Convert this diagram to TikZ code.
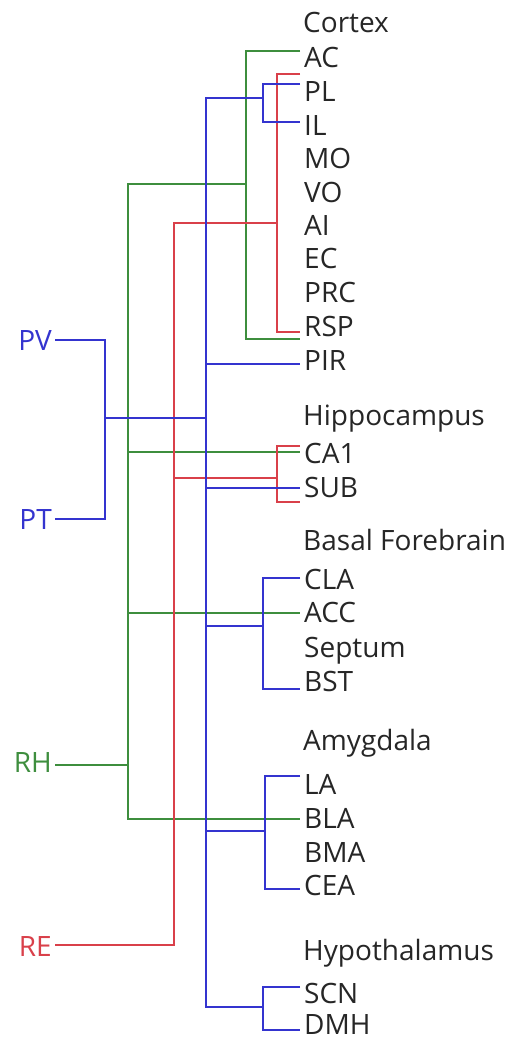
\documentclass[tikz,border=0pt]{standalone}
\usepackage{fontspec}
\setmainfont{Open Sans}
\usepackage{tikz}
\usetikzlibrary{calc}
\definecolor{pv-blue}{HTML}{3434CF}
\definecolor{rh-green}{HTML}{3E8E3E}
\definecolor{re-red}{HTML}{D9404A}
\definecolor{label-gray}{HTML}{262626}

\begin{document}
\begin{tikzpicture}[x=1pt,y=-1pt,
  lbl/.style={anchor=base west,inner xsep=4pt,inner ysep=0pt,font=\fontsize{28}{30}\selectfont,text=label-gray},
  src/.style={anchor=base east,inner xsep=3pt,inner ysep=0pt,font=\fontsize{28}{30}\selectfont},
  wire/.style={line width=2pt}]
  \useasboundingbox (0,0) rectangle (513,1039);
  \foreach \n/\t/\b in {cortex/Cortex/32, hippo/Hippocampus/425, basal/Basal Forebrain/550,
                        amyg/Amygdala/750, hypo/Hypothalamus/960}{
    \node[lbl,inner xsep=3pt] (\n) at (300,\b) {\t};
  }
  \foreach \n/\b in {AC/67, PL/101, IL/135, MO/168, VO/202, AI/235, EC/268, PRC/302, RSP/336, PIR/370,
                     CA1/463, SUB/497, CLA/589, ACC/622, Septum/657, BST/691,
                     LA/794, BLA/828, BMA/862, CEA/895, SCN/1003, DMH/1034}{
    \node[lbl] (\n) at (300,\b) {\n};
  }
  \node[src,text=pv-blue] (PV) at (55,350) {PV};
  \node[src,text=pv-blue] (PT) at (55,529) {PT};
  \node[src,text=rh-green] (RH) at (55,772) {RH};
  \node[src,text=re-red] (RE) at (55,956) {RE};
  \coordinate (gtrunk) at (128,184);
  \coordinate (rtrunk) at (174,223);
  \coordinate (btrunk) at (206,98);
  \coordinate (pvjoin) at (105,418);
  % green: RH
  \begin{scope}[wire,rh-green]
    \draw (AC.west|-0,51) -| (246,339) -- (RSP.west|-0,339);
    \draw (246,184) -- (gtrunk) |- (BLA.west|-0,819);
    \draw (RH.east|-0,765) -- (gtrunk|-0,765);
    \draw (gtrunk|-0,452) -- (CA1.west|-0,452);
    \draw (gtrunk|-0,613) -- (ACC.west|-0,613);
  \end{scope}
  % red: RE
  \begin{scope}[wire,re-red]
    \draw (PL.west|-0,74) -| (277,332) -- (RSP.west|-0,332);
    \draw (277,223) -- (rtrunk) |- (RE.east|-0,945);
    \draw (rtrunk|-0,478) -- (277,478);
    \draw (CA1.west|-0,446) -| (277,502) -- (SUB.west|-0,502);
  \end{scope}
  % blue: PV and PT
  \begin{scope}[wire,pv-blue]
    \draw (PL.west|-0,84) -| (263,122) -- (IL.west|-0,122);
    \draw (263,98) -- (btrunk) |- (263,1007);
    \draw (SCN.west|-0,987) -| (263,1030) -- (DMH.west|-0,1030);
    \draw (btrunk|-0,364) -- (PIR.west|-0,364);
    \draw (PV.east|-0,340) -| (pvjoin|-0,519) -- (PT.east|-0,519);
    \draw (pvjoin) -- (btrunk|-pvjoin);
    \draw (btrunk|-0,488) -- (SUB.west|-0,488);
    \draw (CLA.west|-0,578) -| (263,689) -- (BST.west|-0,689);
    \draw (btrunk|-0,626) -- (263,626);
    \draw (LA.west|-0,776) -| (265,889) -- (CEA.west|-0,889);
    \draw (btrunk|-0,831) -- (265,831);
  \end{scope}
\end{tikzpicture}
\end{document}
